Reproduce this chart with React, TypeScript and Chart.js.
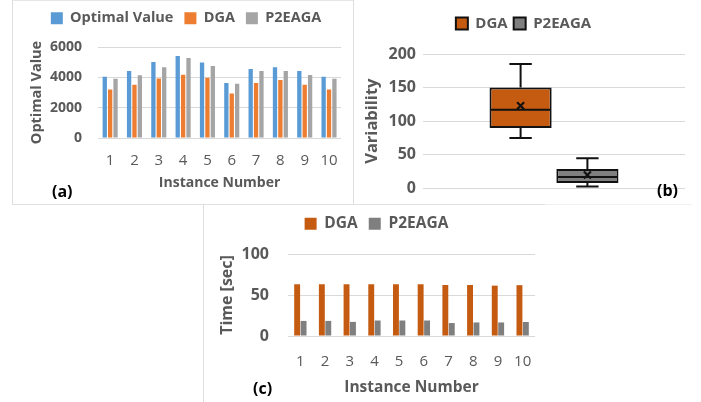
import React, { useEffect, useRef } from 'react';
import { Chart, registerables } from 'chart.js';

Chart.register(...registerables);

// ---------- data ----------
const instanceLabels = ['1', '2', '3', '4', '5', '6', '7', '8', '9', '10'];
const optimalValue = [4040, 4415, 5010, 5410, 4970, 3620, 4550, 4660, 4415, 4040];
const dgaValue = [3200, 3510, 3930, 4170, 3970, 2940, 3620, 3820, 3510, 3200];
const p2eagaValue = [3910, 4130, 4660, 5280, 4750, 3580, 4415, 4415, 4150, 3910];

const boxSeries = ['DGA', 'P2EAGA'];
const boxMin = [75, 3];
const boxQ1 = [90, 8];
const boxMedian = [117, 17];
const boxQ3 = [150, 29];
const boxMax = [185, 45];
const boxMean = [123, 20];

const dgaTime = [63.1, 63.1, 63.1, 63.1, 63.1, 63.1, 62.2, 62.2, 61.4, 62];
const p2eagaTime = [18.4, 18.4, 17.2, 18.9, 18.9, 18.9, 15.8, 16.5, 16.5, 17.1];

// ---------- styling ----------
const FONT = "'Open Sans', 'DejaVu Sans', sans-serif";
const TEXT = '#595959';
const GRID = '#d9d9d9';

Chart.defaults.font.family = FONT;
Chart.defaults.color = TEXT;

const plainNumber = (v: any) => String(v);

const fixedLegendHeight = (h: number) => ({
  id: 'fixedLegendHeight',
  beforeUpdate(chart: any) {
    const lg = chart.legend;
    if (lg && !lg.__patched) {
      const orig = lg.fit.bind(lg);
      lg.fit = () => {
        orig();
        lg.height = h;
      };
      lg.__patched = true;
    }
  },
});

const boxWhiskers = {
  id: 'boxWhiskers',
  afterDatasetsDraw(chart: any) {
    const { ctx } = chart;
    const ys = chart.scales.y;
    chart.data.datasets.forEach((_ds: any, i: number) => {
      const meta = chart.getDatasetMeta(i);
      const bar = meta.data[0];
      if (!bar) return;
      const x = bar.x;
      const w = bar.width;
      const cap = w * 0.36;
      const pMin = ys.getPixelForValue(boxMin[i]);
      const pQ1 = ys.getPixelForValue(boxQ1[i]);
      const pMed = ys.getPixelForValue(boxMedian[i]);
      const pQ3 = ys.getPixelForValue(boxQ3[i]);
      const pMax = ys.getPixelForValue(boxMax[i]);
      const pMean = ys.getPixelForValue(boxMean[i]);
      ctx.save();
      ctx.strokeStyle = '#111111';
      ctx.lineWidth = 2;
      ctx.beginPath();
      ctx.moveTo(x, pQ3);
      ctx.lineTo(x, pMax);
      ctx.moveTo(x - cap / 2, pMax);
      ctx.lineTo(x + cap / 2, pMax);
      ctx.moveTo(x, pQ1);
      ctx.lineTo(x, pMin);
      ctx.moveTo(x - cap / 2, pMin);
      ctx.lineTo(x + cap / 2, pMin);
      ctx.moveTo(x - w / 2 + 1, pMed);
      ctx.lineTo(x + w / 2 - 1, pMed);
      ctx.stroke();
      const s = 3.5;
      ctx.lineWidth = 2.2;
      ctx.beginPath();
      ctx.moveTo(x - s, pMean - s);
      ctx.lineTo(x + s, pMean + s);
      ctx.moveTo(x + s, pMean - s);
      ctx.lineTo(x - s, pMean + s);
      ctx.stroke();
      ctx.restore();
    });
  },
};

function makeChartA(canvas: HTMLCanvasElement) {
  return new Chart(canvas, {
    type: 'bar',
    data: {
      labels: instanceLabels,
      datasets: [
        { label: 'Optimal Value', data: optimalValue, backgroundColor: '#5B9BD5', borderWidth: 0 },
        { label: 'DGA', data: dgaValue, backgroundColor: '#ED7D31', borderWidth: 0 },
        { label: 'P2EAGA', data: p2eagaValue, backgroundColor: '#A5A5A5', borderWidth: 0 },
      ],
    },
    options: {
      responsive: false,
      animation: false,
      devicePixelRatio: 1,
      layout: { padding: { left: 28, right: 8, top: 0, bottom: 0 } },
      datasets: { bar: { categoryPercentage: 0.665, barPercentage: 0.8 } },
      plugins: {
        legend: {
          position: 'top',
          labels: { boxWidth: 12, boxHeight: 12, padding: 11, color: TEXT, font: { size: 14.5, weight: 'bold' } },
        },
        tooltip: { enabled: false },
      },
      scales: {
        x: {
          grid: { display: false, drawTicks: false },
          border: { display: false },
          ticks: { padding: 14, color: TEXT, font: { size: 15 } },
          title: { display: true, text: 'Instance Number', color: TEXT, font: { size: 14, weight: 'bold' }, padding: { top: 0, bottom: 12.5 } },
          afterFit: (s: any) => { s.height = 66; },
        },
        y: {
          min: 0,
          max: 6000,
          grid: { color: GRID, drawTicks: false },
          border: { display: false },
          ticks: { stepSize: 2000, padding: 16, color: TEXT, font: { size: 14, weight: 'bold' }, callback: plainNumber },
          title: { display: true, text: 'Optimal Value', color: TEXT, font: { size: 14.5, weight: 'bold' }, padding: { top: 0, bottom: 0 } },
          afterFit: (s: any) => { s.width = 70; },
        },
      },
    } as any,
    plugins: [fixedLegendHeight(47)],
  });
}

function makeChartB(canvas: HTMLCanvasElement) {
  return new Chart(canvas, {
    type: 'bar',
    data: {
      labels: [''],
      datasets: [
        {
          label: boxSeries[0],
          data: [[boxQ1[0], boxQ3[0]]],
          backgroundColor: '#C55A11',
          borderColor: '#111111',
          borderWidth: 2,
          borderSkipped: false,
        },
        {
          label: boxSeries[1],
          data: [[boxQ1[1], boxQ3[1]]],
          backgroundColor: '#7F7F7F',
          borderColor: '#111111',
          borderWidth: 2,
          borderSkipped: false,
        },
      ],
    },
    options: {
      responsive: false,
      animation: false,
      devicePixelRatio: 1,
      layout: { padding: { left: 8, right: 16, top: 10, bottom: 0 } },
      datasets: { bar: { categoryPercentage: 0.51, barPercentage: 0.93 } },
      plugins: {
        legend: {
          position: 'top',
          labels: { boxWidth: 12, boxHeight: 12, padding: 6, color: TEXT, font: { size: 15, weight: 'bold' } },
        },
        tooltip: { enabled: false },
      },
      scales: {
        x: { display: false },
        y: {
          min: 0,
          max: 200,
          grid: { color: GRID, drawTicks: false },
          border: { display: false },
          ticks: { stepSize: 50, padding: 7, color: TEXT, font: { size: 16, weight: 'bold' }, callback: plainNumber },
          title: { display: true, text: 'Variability', color: TEXT, font: { size: 16.5, weight: 'bold' }, padding: { top: 0, bottom: 0 } },
          afterFit: (s: any) => { s.width = 61; },
        },
      },
    } as any,
    plugins: [fixedLegendHeight(44), boxWhiskers],
  });
}

function makeChartC(canvas: HTMLCanvasElement) {
  return new Chart(canvas, {
    type: 'bar',
    data: {
      labels: instanceLabels,
      datasets: [
        { label: 'DGA', data: dgaTime, backgroundColor: '#C55A11', borderWidth: 0 },
        { label: 'P2EAGA', data: p2eagaTime, backgroundColor: '#7F7F7F', borderWidth: 0 },
      ],
    },
    options: {
      responsive: false,
      animation: false,
      devicePixelRatio: 1,
      layout: { padding: { left: 16, right: 16, top: 0, bottom: 0 } },
      datasets: { bar: { categoryPercentage: 0.52, barPercentage: 0.92 } },
      plugins: {
        legend: {
          position: 'top',
          labels: { boxWidth: 12, boxHeight: 12, padding: 11, color: TEXT, font: { size: 15.5, weight: 'bold' } },
        },
        tooltip: { enabled: false },
      },
      scales: {
        x: {
          grid: { display: false, drawTicks: false },
          border: { display: false },
          ticks: { padding: 17, color: TEXT, font: { size: 15 } },
          title: { display: true, text: 'Instance Number', color: TEXT, font: { size: 15.5, weight: 'bold' }, padding: { top: 0, bottom: 5.4 } },
          afterFit: (s: any) => { s.height = 66; },
        },
        y: {
          min: 0,
          max: 100,
          grid: { color: GRID, drawTicks: false },
          border: { display: false },
          ticks: { stepSize: 50, padding: 19, color: TEXT, font: { size: 16, weight: 'bold' }, callback: plainNumber },
          title: { display: true, text: 'Time [sec]', color: TEXT, font: { size: 16, weight: 'bold' }, padding: { top: 0, bottom: 0 } },
          afterFit: (s: any) => { s.width = 70; },
        },
      },
    } as any,
    plugins: [fixedLegendHeight(49)],
  });
}

type PanelProps = {
  make: (c: HTMLCanvasElement) => Chart;
  left: number;
  top: number;
  width: number;
  height: number;
};

function ChartPanel({ make, left, top, width, height }: PanelProps) {
  const ref = useRef<HTMLCanvasElement>(null);
  useEffect(() => {
    if (!ref.current) return;
    const chart = make(ref.current);
    return () => chart.destroy();
  }, [make]);
  return (
    <canvas
      ref={ref}
      width={width}
      height={height}
      style={{ position: 'absolute', left, top, width, height, display: 'block' }}
    />
  );
}

const line = (left: number, top: number, width: number, height: number, color: string) => (
  <div style={{ position: 'absolute', left, top, width, height, background: color }} />
);

const panelLabel = (text: string, left: number, top: number) => (
  <div
    style={{
      position: 'absolute',
      left,
      top,
      fontFamily: FONT,
      fontWeight: 700,
      fontSize: 16,
      lineHeight: '20px',
      color: '#000',
    }}
  >
    {text}
  </div>
);

export default function App() {
  return (
    <div style={{ position: 'fixed', left: 0, top: 0, width: 701, height: 402, background: '#fff', overflow: 'hidden' }}>
      <ChartPanel make={makeChartA} left={0} top={0} width={352} height={204} />
      <ChartPanel make={makeChartB} left={354} top={0} width={347} height={205} />
      <ChartPanel make={makeChartC} left={202} top={205} width={349} height={197} />
      {line(12, 0, 341, 1, '#e6e6e6')}
      {line(12, 0, 1, 204, '#dedede')}
      {line(353, 0, 1, 204, '#dedede')}
      {line(12, 204, 533, 1, '#e0e0e0')}
      {line(545, 204, 147, 1, '#f0f0f0')}
      {line(203, 204, 1, 198, '#dedede')}
      {panelLabel('(a)', 52, 181)}
      {panelLabel('(b)', 657, 180)}
      {panelLabel('(c)', 253, 378)}
    </div>
  );
}
